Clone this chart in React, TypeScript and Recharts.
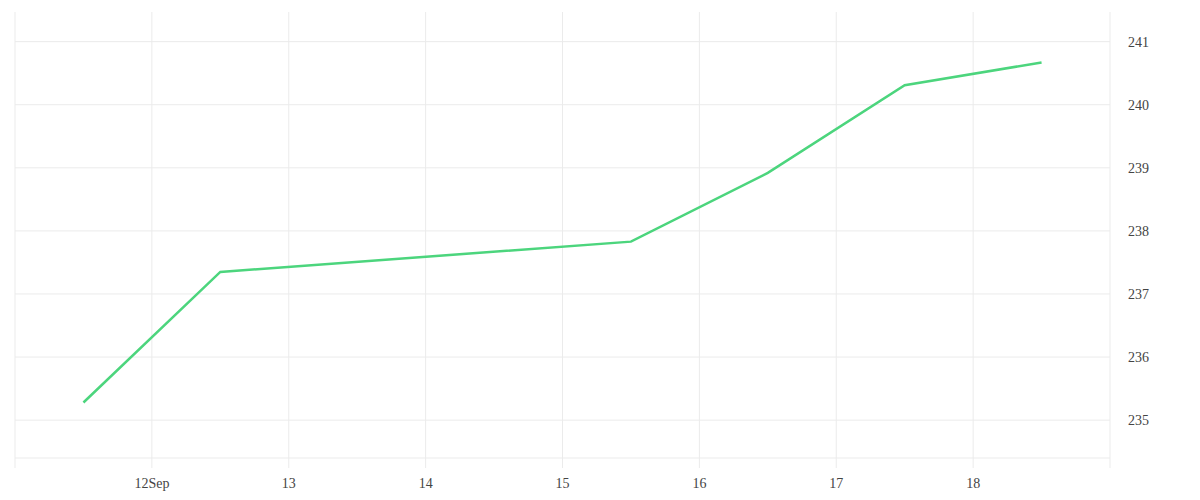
import { LineChart, Line, XAxis, YAxis, CartesianGrid, ReferenceLine } from 'recharts';

// day of September (points sit at mid-day)
const days = [11.5, 12.5, 15.5, 16.5, 17.5, 18.5];
const values = [235.28, 237.35, 237.83, 238.92, 240.31, 240.67];

const xTicks = [11, 12, 13, 14, 15, 16, 17, 18, 19];
const yTicks = [235, 236, 237, 238, 239, 240, 241];

const data = days.map((day, i) => ({ day, value: values[i] }));

const GRID = '#ebebeb';
const TEXT = '#444';

function formatDay(day: number) {
  if (day === 11 || day === 19) return '';
  if (day === 12) return '12Sep';
  return String(day);
}

export default function App() {
  return (
    <div style={{ position: 'absolute', left: 0, top: 0 }}>
      <LineChart
        width={1200}
        height={500}
        data={data}
        margin={{ top: 12, right: 0, bottom: 12, left: 15 }}
      >
        <CartesianGrid stroke={GRID} horizontal={false} />
        {yTicks.map((t) => (
          <ReferenceLine key={t} y={t} stroke={GRID} />
        ))}
        <XAxis
          dataKey="day"
          type="number"
          domain={[11, 19]}
          ticks={xTicks}
          tickFormatter={formatDay}
          height={30}
          axisLine={{ stroke: GRID }}
          tickLine={{ stroke: GRID }}
          tickSize={10}
          tickMargin={10}
          tick={{ fill: TEXT, fontSize: 14 }}
          interval={0}
        />
        <YAxis
          orientation="right"
          domain={[234.4, 241.47]}
          ticks={yTicks}
          allowDataOverflow
          width={90}
          axisLine={false}
          tickLine={false}
          tickMargin={12}
          tick={{ fill: TEXT, fontSize: 14 }}
        />
        <Line
          type="linear"
          dataKey="value"
          stroke="#4cd57d"
          strokeWidth={2.5}
          dot={false}
          isAnimationActive={false}
        />
      </LineChart>
    </div>
  );
}
